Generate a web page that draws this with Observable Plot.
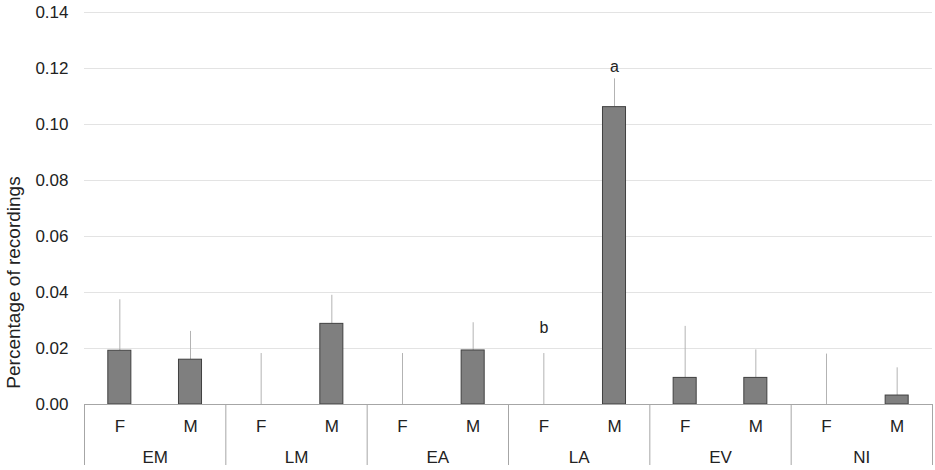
<!DOCTYPE html>
<html>
<head>
<meta charset="utf-8">
<script src="https://cdn.jsdelivr.net/npm/d3@7"></script>
<script src="https://cdn.jsdelivr.net/npm/@observablehq/plot@0.6"></script>
<style>
  html, body { margin: 0; padding: 0; background: #fff; }
</style>
</head>
<body>
<div id="chart"></div>
<script>
// ---- data ----
const groups = ["EM", "LM", "EA", "LA", "EV", "NI"];
const sexes = ["F", "M"];
// mean percentage of recordings, ordered group by group, F then M
const means = [0.0192, 0.0160, 0.0000, 0.0288, 0.0000, 0.0193, 0.0000, 0.1062, 0.0095, 0.0095, 0.0000, 0.0032];
// upper error (added on top of the mean)
const errors = [0.0182, 0.0101, 0.0182, 0.0102, 0.0182, 0.0099, 0.0182, 0.0101, 0.0184, 0.0100, 0.0180, 0.0099];
// significance letters
const letterText = ["b", "a"];
const letterGroup = ["LA", "LA"];
const letterSex = ["F", "M"];
const letterValue = [0.0275, 0.1207];
const yTicks = [0, 0.02, 0.04, 0.06, 0.08, 0.10, 0.12, 0.14];
const yLabel = "Percentage of recordings";

// ---- table ----
const rows = [];
groups.forEach((g, gi) => sexes.forEach((s, si) => {
  const i = gi * sexes.length + si;
  rows.push({group: g, sex: s, i, mean: means[i], err: errors[i]});
}));
const groupRows = groups.map((g, gi) => ({group: g, c: gi * 2 + 0.5}));
const separators = d3.range(groups.length + 1).map(g => g * 2 - 0.5);
const letters = letterText.map((t, k) => ({
  text: t,
  i: groups.indexOf(letterGroup[k]) * 2 + sexes.indexOf(letterSex[k]),
  v: letterValue[k]
}));

const halfBar = 0.163;
const lineCol = "#a6a6a6";

const chart = Plot.plot({
  width: 935,
  height: 470,
  marginTop: 12,
  marginBottom: 66,
  marginLeft: 84,
  marginRight: 3,
  style: {fontFamily: "'Liberation Sans', Arial, sans-serif", fontSize: "17px", color: "#222", background: "#fff"},
  x: {type: "linear", domain: [-0.5, 11.5], axis: null},
  y: {domain: [0, 0.14], axis: null},
  marks: [
    Plot.gridY(yTicks.filter(t => t > 0), {stroke: "#e3e3e3", strokeOpacity: 1}),
    Plot.axisY({ticks: yTicks, tickFormat: d3.format(".2f"), tickSize: 0, tickPadding: 16, fontSize: 17, label: null}),
    Plot.ruleX(rows, {x: "i", y1: "mean", y2: d => d.mean + d.err, stroke: "#b3b3b3", strokeWidth: 1}),
    Plot.rectY(rows.filter(d => d.mean > 0), {
      x1: d => d.i - halfBar, x2: d => d.i + halfBar, y1: 0, y2: "mean",
      fill: "#7f7f7f", stroke: "#404040", strokeWidth: 1
    }),
    Plot.ruleY([0], {stroke: lineCol, strokeWidth: 1}),
    Plot.ruleX(separators, {x: d => d, y1: 0, y2: 0, insetBottom: -61, stroke: lineCol, strokeWidth: 1}),
    Plot.text(rows, {x: "i", y: 0, text: "sex", dy: 22, fontSize: 17, lineAnchor: "middle", fill: "#222"}),
    Plot.text(groupRows, {x: "c", y: 0, text: "group", dy: 53, fontSize: 17, lineAnchor: "middle", fill: "#222"}),
    Plot.text(letters, {x: "i", y: "v", text: "text", fontSize: 16, lineAnchor: "middle", fill: "#222"}),
    Plot.text([yLabel], {frameAnchor: "left", textAnchor: "middle", rotate: -90, dx: -71, dy: 74, fontSize: 19, fill: "#222", lineAnchor: "middle"})
  ]
});
document.getElementById("chart").appendChild(chart);
</script>
</body>
</html>
